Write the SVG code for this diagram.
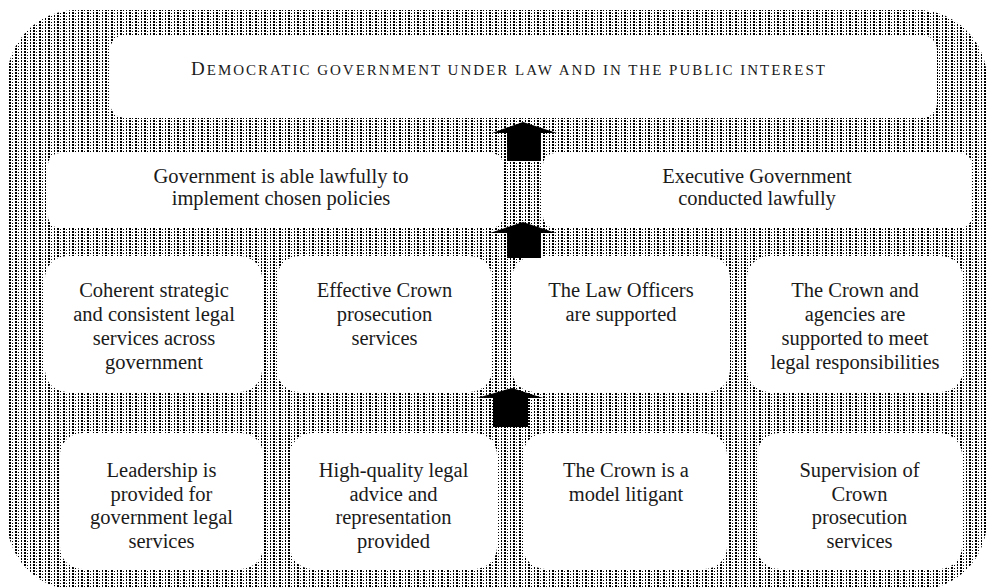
<svg xmlns="http://www.w3.org/2000/svg" width="992" height="588" viewBox="0 0 992 588">
  <style>
    .box { fill: #ffffff; }
    .lbl { font-family: "Liberation Serif", "Times New Roman", serif; font-size: 20.5px; fill: #1a1a1a; text-anchor: middle; }
    .title { font-family: "Liberation Serif", "Times New Roman", serif; fill: #1a1a1a; text-anchor: middle; }
    .arrow { fill: #000000; }
  </style>
  <defs>
    <!-- dotted texture: small dot columns, alternating heavy and light -->
    <pattern id="dots" x="0" y="0" width="24" height="6" patternUnits="userSpaceOnUse">
      <rect width="24" height="6" fill="#ffffff"/>
      <g fill="#000000" shape-rendering="crispEdges">
        <rect x="0" y="0" width="2" height="2"/><rect x="0" y="3" width="2" height="2"/>
        <rect x="3" y="1" width="1" height="1"/><rect x="3" y="4" width="1" height="1"/>
        <rect x="6" y="0" width="1" height="2"/><rect x="6" y="3" width="1" height="2"/>
        <rect x="9" y="0" width="2" height="2"/><rect x="9" y="3" width="2" height="2"/>
        <rect x="12" y="1" width="1" height="1"/><rect x="12" y="4" width="1" height="1"/>
        <rect x="15" y="0" width="2" height="2"/><rect x="15" y="3" width="2" height="2"/>
        <rect x="18" y="1" width="1" height="1"/><rect x="18" y="4" width="1" height="1"/>
        <rect x="21" y="0" width="1" height="2"/><rect x="21" y="3" width="1" height="2"/>
      </g>
    </pattern>
  </defs>

  <!-- textured backdrop -->
  <rect id="backdrop" x="7" y="10" width="980" height="580" rx="70" ry="70" fill="url(#dots)"/>

  <!-- top outcome -->
  <g id="outcome">
    <rect class="box" x="110" y="35" width="827" height="83" rx="15"/>
    <text class="title" x="509" y="75" letter-spacing="2"><tspan font-size="19">D</tspan><tspan font-size="15">EMOCRATIC GOVERNMENT UNDER LAW AND IN THE PUBLIC INTEREST</tspan></text>
  </g>

  <!-- second tier -->
  <g id="lawful-policies">
    <rect class="box" x="48" y="153" width="455" height="75" rx="12"/>
    <text class="lbl" x="281"><tspan x="281" y="183">Government is able lawfully to</tspan><tspan x="281" y="205">implement chosen policies</tspan></text>
  </g>
  <g id="lawful-executive">
    <rect class="box" x="543" y="153" width="429" height="75" rx="12"/>
    <text class="lbl" x="757"><tspan x="757" y="183">Executive Government</tspan><tspan x="757" y="205">conducted lawfully</tspan></text>
  </g>

  <!-- third tier -->
  <g id="coherent-services">
    <rect class="box" x="45" y="256" width="217" height="136" rx="22"/>
    <text class="lbl"><tspan x="154" y="297">Coherent strategic</tspan><tspan x="154" y="321">and consistent legal</tspan><tspan x="154" y="345">services across</tspan><tspan x="154" y="369">government</tspan></text>
  </g>
  <g id="crown-prosecution">
    <rect class="box" x="277" y="256" width="215" height="136" rx="22"/>
    <text class="lbl"><tspan x="384.5" y="297">Effective Crown</tspan><tspan x="384.5" y="321">prosecution</tspan><tspan x="384.5" y="345">services</tspan></text>
  </g>
  <g id="law-officers">
    <rect class="box" x="512" y="256" width="218" height="136" rx="22"/>
    <text class="lbl"><tspan x="621" y="297">The Law Officers</tspan><tspan x="621" y="321">are supported</tspan></text>
  </g>
  <g id="crown-agencies">
    <rect class="box" x="747" y="256" width="216" height="136" rx="22"/>
    <text class="lbl"><tspan x="855" y="297">The Crown and</tspan><tspan x="855" y="321">agencies are</tspan><tspan x="855" y="345">supported to meet</tspan><tspan x="855" y="369">legal responsibilities</tspan></text>
  </g>

  <!-- fourth tier -->
  <g id="leadership">
    <rect class="box" x="60" y="433" width="203" height="136" rx="22"/>
    <text class="lbl"><tspan x="161.5" y="477">Leadership is</tspan><tspan x="161.5" y="500.5">provided for</tspan><tspan x="161.5" y="524">government legal</tspan><tspan x="161.5" y="547.5">services</tspan></text>
  </g>
  <g id="legal-advice">
    <rect class="box" x="290" y="433" width="207" height="136" rx="22"/>
    <text class="lbl"><tspan x="393.5" y="477">High-quality legal</tspan><tspan x="393.5" y="500.5">advice and</tspan><tspan x="393.5" y="524">representation</tspan><tspan x="393.5" y="547.5">provided</tspan></text>
  </g>
  <g id="model-litigant">
    <rect class="box" x="523" y="433" width="204" height="136" rx="22"/>
    <text class="lbl"><tspan x="626" y="477">The Crown is a</tspan><tspan x="626" y="500.5">model litigant</tspan></text>
  </g>
  <g id="prosecution-supervision">
    <rect class="box" x="757" y="433" width="205" height="136" rx="22"/>
    <text class="lbl"><tspan x="859.5" y="477">Supervision of</tspan><tspan x="859.5" y="500.5">Crown</tspan><tspan x="859.5" y="524">prosecution</tspan><tspan x="859.5" y="547.5">services</tspan></text>
  </g>

  <!-- upward block arrows between tiers -->
  <g id="connectors">
    <polygon class="arrow" points="523,122 557,133 541,133 541,161 507,161 507,133 492,133"/>
    <polygon class="arrow" points="523,222 556,233 541,233 541,258 507,258 507,233 490,233"/>
    <polygon class="arrow" points="512,388 543,398 528,398 528,427 493,427 493,398 477,398"/>
  </g>
</svg>
